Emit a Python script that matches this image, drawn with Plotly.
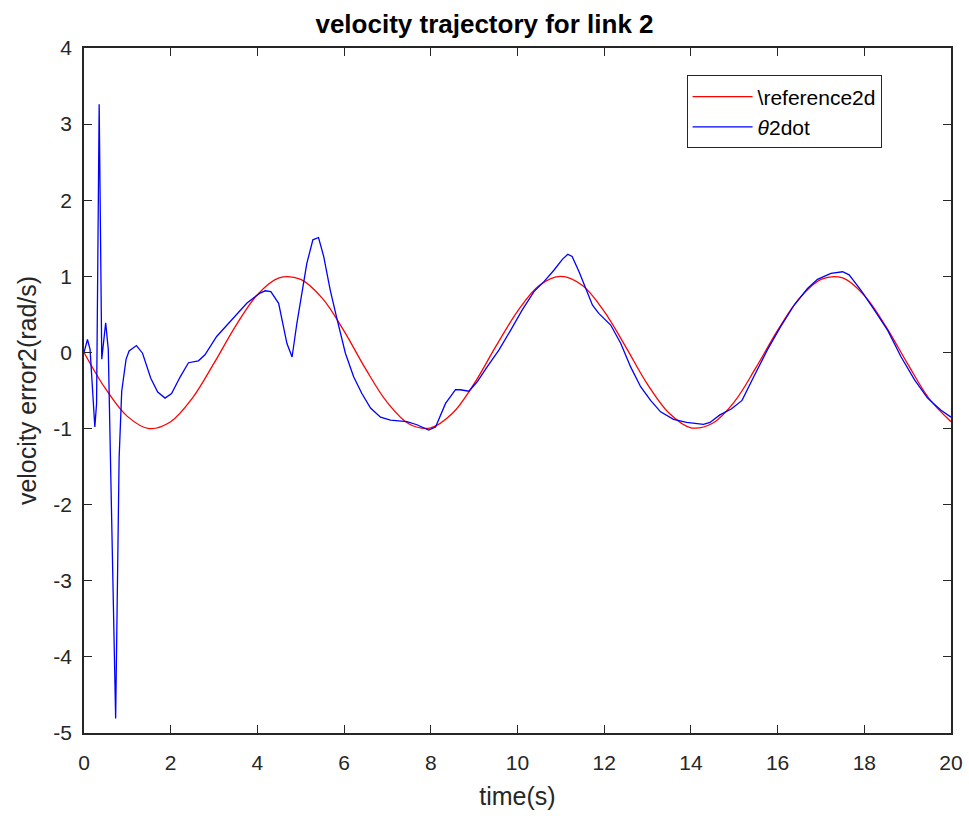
import plotly.graph_objects as go

# reference (red)
ref_t = [0, 0.5, 1.0, 1.5, 2.0, 2.5, 3.0, 3.5, 4.0, 4.5, 5.0, 5.5, 6.0, 6.5, 7.0, 7.5,
         8.0, 8.5, 9.0, 9.5, 10.0, 10.5, 11.0, 11.5, 12.0, 12.5, 13.0, 13.5, 14.0,
         14.5, 15.0, 15.5, 16.0, 16.5, 17.0, 17.5, 18.0, 18.5, 19.0, 19.5, 20.0]
ref_v = [0, -0.48, -0.84, -1.00, -0.91, -0.60, -0.14, 0.35, 0.76, 0.98, 0.96, 0.71,
         0.28, -0.22, -0.66, -0.94, -0.99, -0.80, -0.41, 0.08, 0.54, 0.88, 1.00, 0.88,
         0.54, 0.07, -0.42, -0.80, -0.99, -0.93, -0.65, -0.20, 0.29, 0.71, 0.96, 0.98,
         0.75, 0.34, -0.15, -0.61, -0.91]

# theta2dot (blue)
th_t = [0, 0.08, 0.14, 0.25, 0.29, 0.35, 0.41, 0.50, 0.56, 0.73, 0.81, 0.87, 0.97,
        1.04, 1.21, 1.35, 1.54, 1.70, 1.87, 2.02, 2.22, 2.41, 2.64, 2.79, 3.06, 3.41,
        3.76, 4.06, 4.18, 4.31, 4.49, 4.68, 4.80, 4.91, 5.03, 5.14, 5.28, 5.41, 5.53,
        5.68, 5.84, 6.03, 6.22, 6.41, 6.61, 6.84, 7.07, 7.45, 7.68, 7.95, 8.11, 8.34,
        8.57, 8.68, 8.88, 9.07, 9.30, 9.57, 9.84, 10.11, 10.38, 10.61, 10.84, 11.03,
        11.16, 11.26, 11.42, 11.57, 11.73, 11.88, 12.15, 12.38, 12.61, 12.84, 13.07,
        13.30, 13.60, 13.90, 14.29, 14.44, 14.67, 14.94, 15.18, 15.45, 15.76, 16.07,
        16.38, 16.69, 16.92, 17.23, 17.50, 17.65, 17.92, 18.23, 18.54, 18.85, 19.16,
        19.46, 19.77, 20.0]
th_v = [0, 0.17, 0.04, -0.98, -0.67, 3.26, -0.09, 0.39, 0.04, -4.81, -1.39, -0.51,
        -0.09, 0.02, 0.09, -0.01, -0.34, -0.52, -0.60, -0.54, -0.32, -0.135, -0.11,
        -0.03, 0.21, 0.43, 0.65, 0.78, 0.81, 0.80, 0.645, 0.12, -0.06, 0.38, 0.82,
        1.17, 1.48, 1.51, 1.26, 0.82, 0.43, -0.01, -0.32, -0.54, -0.73, -0.85, -0.89,
        -0.91, -0.95, -1.02, -0.98, -0.67, -0.49, -0.49, -0.51, -0.385, -0.19, 0.03,
        0.29, 0.56, 0.80, 0.93, 1.08, 1.22, 1.29, 1.26, 1.06, 0.84, 0.62, 0.51, 0.36,
        0.12, -0.19, -0.45, -0.63, -0.78, -0.88, -0.92, -0.945, -0.92, -0.82, -0.74,
        -0.63, -0.32, 0.03, 0.34, 0.62, 0.84, 0.96, 1.04, 1.06, 1.02, 0.82, 0.56, 0.29,
        -0.06, -0.36, -0.60, -0.76, -0.85]

x_ticks = list(range(0, 21, 2))
x_labels = [str(v) for v in x_ticks]
y_ticks = list(range(-5, 5, 1))
y_labels = [str(v) for v in y_ticks]  # plain hyphen minus like the reference

font = "Liberation Sans, Arial, sans-serif"
axis_col = "#262626"

fig = go.Figure()
fig.add_trace(go.Scatter(x=ref_t, y=ref_v, mode="lines", name="\\reference2d",
                         line=dict(color="#ff0000", width=1.3, shape="spline")))
fig.add_trace(go.Scatter(x=th_t, y=th_v, mode="lines", name="<i>θ</i>2dot",
                         line=dict(color="#0000ff", width=1.3)))

axis_common = dict(showgrid=False, zeroline=False, showline=True, linecolor=axis_col,
                   linewidth=1.6, mirror="ticks", ticks="inside", ticklen=8,
                   tickwidth=1.3, tickcolor=axis_col, automargin=False,
                   tickfont=dict(family=font, size=21, color=axis_col))

fig.update_layout(
    width=969, height=821,
    margin=dict(l=84, r=18, t=48, b=88),
    paper_bgcolor="white", plot_bgcolor="white",
    title=dict(text="<b>velocity trajectory for link 2</b>", x=0.5, xanchor="center",
               y=0.971, yanchor="middle", automargin=False,
               font=dict(family=font, size=26, color="black")),
    xaxis=dict(range=[0, 20], tickvals=x_ticks, ticktext=x_labels, ticklabelstandoff=10,
               title=dict(text="time(s)",
                          font=dict(family=font, size=25, color=axis_col), standoff=14),
               **axis_common),
    yaxis=dict(range=[-5, 4], tickvals=y_ticks, ticktext=y_labels, ticklabelstandoff=6,
               title=dict(text="velocity error2(rad/s)",
                          font=dict(family=font, size=25, color=axis_col), standoff=10),
               **axis_common),
    legend=dict(x=0.695, y=0.96, xanchor="left", yanchor="top",
                bgcolor="white", bordercolor=axis_col, borderwidth=1,
                font=dict(family=font, size=21, color="black"),
                itemwidth=60, tracegroupgap=0),
    showlegend=True,
)

fig.write_html("out.html")
